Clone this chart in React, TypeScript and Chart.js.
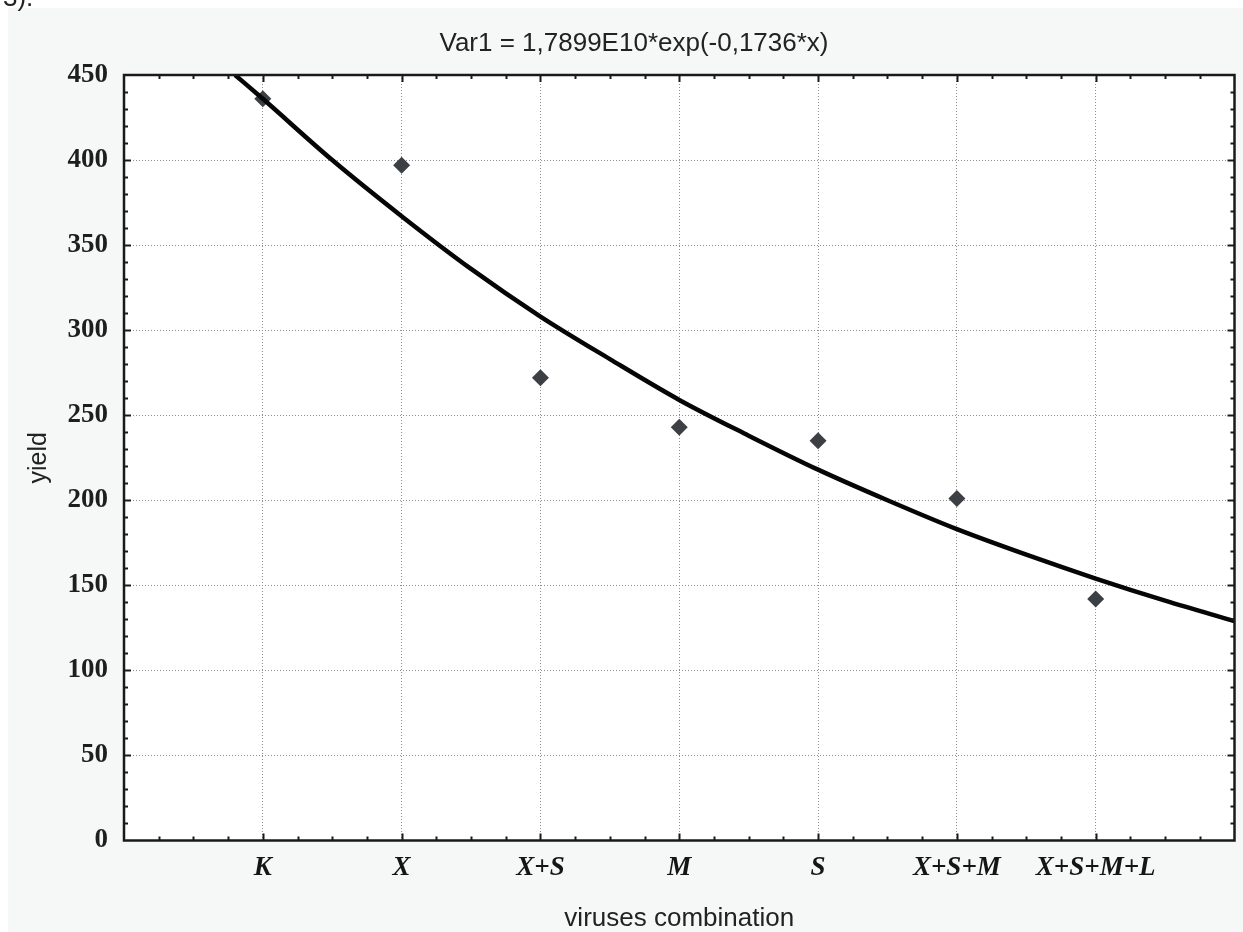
import { useEffect, useRef } from 'react';
import { Chart, registerables } from 'chart.js';

Chart.register(...registerables);

const titleText = 'Var1 = 1,7899E10*exp(-0,1736*x)';
const xTitle = 'viruses combination';
const yTitle = 'yield';
const cornerNote = '3).';

const categories = ['K', 'X', 'X+S', 'M', 'S', 'X+S+M', 'X+S+M+L'];
const yieldValues = [436, 397, 272, 243, 235, 201, 142];

// fitted curve
const curveX = [0.8, 1, 1.5, 2, 2.5, 3, 3.5, 4, 4.5, 5, 5.5, 6, 6.5, 7, 7.5, 8];
const curveY = [450, 436, 400, 367, 336, 308, 283, 259, 238, 218, 200, 183, 168, 154, 141, 129];

const yMin = 0;
const yMax = 450;
const yStep = 50;
const yMinorStep = 10;
const xMin = 0;
const xMax = 8;
const xMinorStep = 0.25;

export default function App() {
  const ref = useRef<HTMLCanvasElement>(null);

  useEffect(() => {
    const canvas = ref.current;
    if (!canvas) return;

    const decor = {
      id: 'decor',
      beforeDraw(chart: any) {
        const { ctx, width, height, chartArea: a } = chart;
        ctx.save();
        ctx.fillStyle = '#ffffff';
        ctx.fillRect(0, 0, width, height);
        ctx.fillStyle = '#f6f7f7';
        ctx.fillRect(8, 8, width - 8, height - 8);
        ctx.fillStyle = '#ffffff';
        ctx.fillRect(a.left, a.top, a.right - a.left, a.bottom - a.top);
        ctx.fillStyle = '#222';
        ctx.font = '26px "Liberation Sans"';
        ctx.textBaseline = 'alphabetic';
        ctx.fillText(cornerNote, 3, 6);
        ctx.restore();
      },
      afterDraw(chart: any) {
        const { ctx, chartArea: a } = chart;
        const xs = chart.scales.x;
        const ys = chart.scales.y;
        ctx.save();
        ctx.strokeStyle = '#1a1a1a';
        ctx.lineWidth = 2;
        ctx.beginPath();
        for (let v = xMin + xMinorStep; v < xMax - 1e-6; v += xMinorStep) {
          const px = Math.round(xs.getPixelForValue(v)) + 0.5;
          const major = Math.abs(v - Math.round(v)) < 1e-6;
          const len = major ? 7 : 4;
          ctx.moveTo(px, a.bottom);
          ctx.lineTo(px, a.bottom - len);
          ctx.moveTo(px, a.top);
          ctx.lineTo(px, a.top + len);
        }
        for (let v = yMin + yMinorStep; v < yMax - 1e-6; v += yMinorStep) {
          const py = Math.round(ys.getPixelForValue(v)) + 0.5;
          const major = v % yStep === 0;
          const len = major ? 7 : 4;
          ctx.moveTo(a.left, py);
          ctx.lineTo(a.left + len, py);
          ctx.moveTo(a.right, py);
          ctx.lineTo(a.right - len, py);
        }
        ctx.stroke();
        ctx.lineWidth = 2.5;
        ctx.strokeRect(a.left, a.top, a.right - a.left, a.bottom - a.top);
        ctx.restore();
      },
    };

    const gridColor = (c: any) => {
      const v = c.tick ? c.tick.value : null;
      return v === xMin || v === xMax || v === yMin || v === yMax ? 'rgba(0,0,0,0)' : '#8f8f8f';
    };

    const chart = new Chart(canvas, {
      type: 'line',
      data: {
        datasets: [
          {
            label: 'fit',
            data: curveX.map((x, i) => ({ x, y: curveY[i] })),
            borderColor: '#060606',
            borderWidth: 4.5,
            pointRadius: 0,
            cubicInterpolationMode: 'monotone',
            fill: false,
            order: 0,
          },
          {
            label: 'yield',
            data: yieldValues.map((y, i) => ({ x: i + 1, y })),
            showLine: false,
            pointStyle: 'rectRot',
            pointRadius: 8.5,
            backgroundColor: '#3c4044',
            borderColor: '#3c4044',
            borderWidth: 0,
            order: 1,
          },
        ],
      },
      options: {
        animation: false,
        responsive: false,
        maintainAspectRatio: false,
        layout: { padding: { left: 30, right: 5, top: 0, bottom: 0 } },
        plugins: {
          legend: { display: false },
          tooltip: { enabled: false },
          title: {
            display: true,
            text: titleText,
            color: '#222',
            font: { family: '"Liberation Sans"', size: 26, weight: 'normal', lineHeight: 1.2 },
            padding: { top: 28, bottom: 15.8 },
          },
        },
        scales: {
          x: {
            type: 'linear',
            min: xMin,
            max: xMax,
            afterFit: (s: any) => {
              s.height = 91.5;
              s.paddingLeft = 0;
              s.paddingRight = 0;
            },
            ticks: {
              stepSize: 1,
              autoSkip: false,
              maxRotation: 0,
              padding: 0,
              color: '#151515',
              font: { family: '"Liberation Serif"', size: 27, weight: 'bold', style: 'italic', lineHeight: 2.07 },
              callback: (v: any) => categories[Number(v) - 1] ?? '',
            },
            grid: { color: gridColor, lineWidth: 1, drawTicks: false },
            border: { display: false, dash: [1, 2] },
            title: {
              display: true,
              text: xTitle,
              color: '#222',
              font: { family: '"Liberation Sans"', size: 26, lineHeight: 1 },
              padding: { top: 0, bottom: 0 },
            },
          },
          y: {
            type: 'linear',
            min: yMin,
            max: yMax,
            afterFit: (s: any) => {
              s.width = 94;
            },
            ticks: {
              stepSize: yStep,
              padding: 16,
              color: '#1e1e1e',
              font: { family: '"Liberation Serif"', size: 27, weight: 'bold' },
            },
            grid: { color: gridColor, lineWidth: 1, drawTicks: false },
            border: { display: false, dash: [1, 2] },
            title: {
              display: true,
              text: yTitle,
              color: '#222',
              font: { family: '"Liberation Sans"', size: 25, lineHeight: 0.72 },
              padding: { top: 0, bottom: 0 },
            },
          },
        },
      },
      plugins: [decor],
    } as any);

    return () => chart.destroy();
  }, []);

  return (
    <div style={{ position: 'absolute', left: 0, top: 0, width: 1243, height: 932 }}>
      <canvas ref={ref} width={1243} height={932} style={{ display: 'block', width: 1243, height: 932 }} />
    </div>
  );
}
